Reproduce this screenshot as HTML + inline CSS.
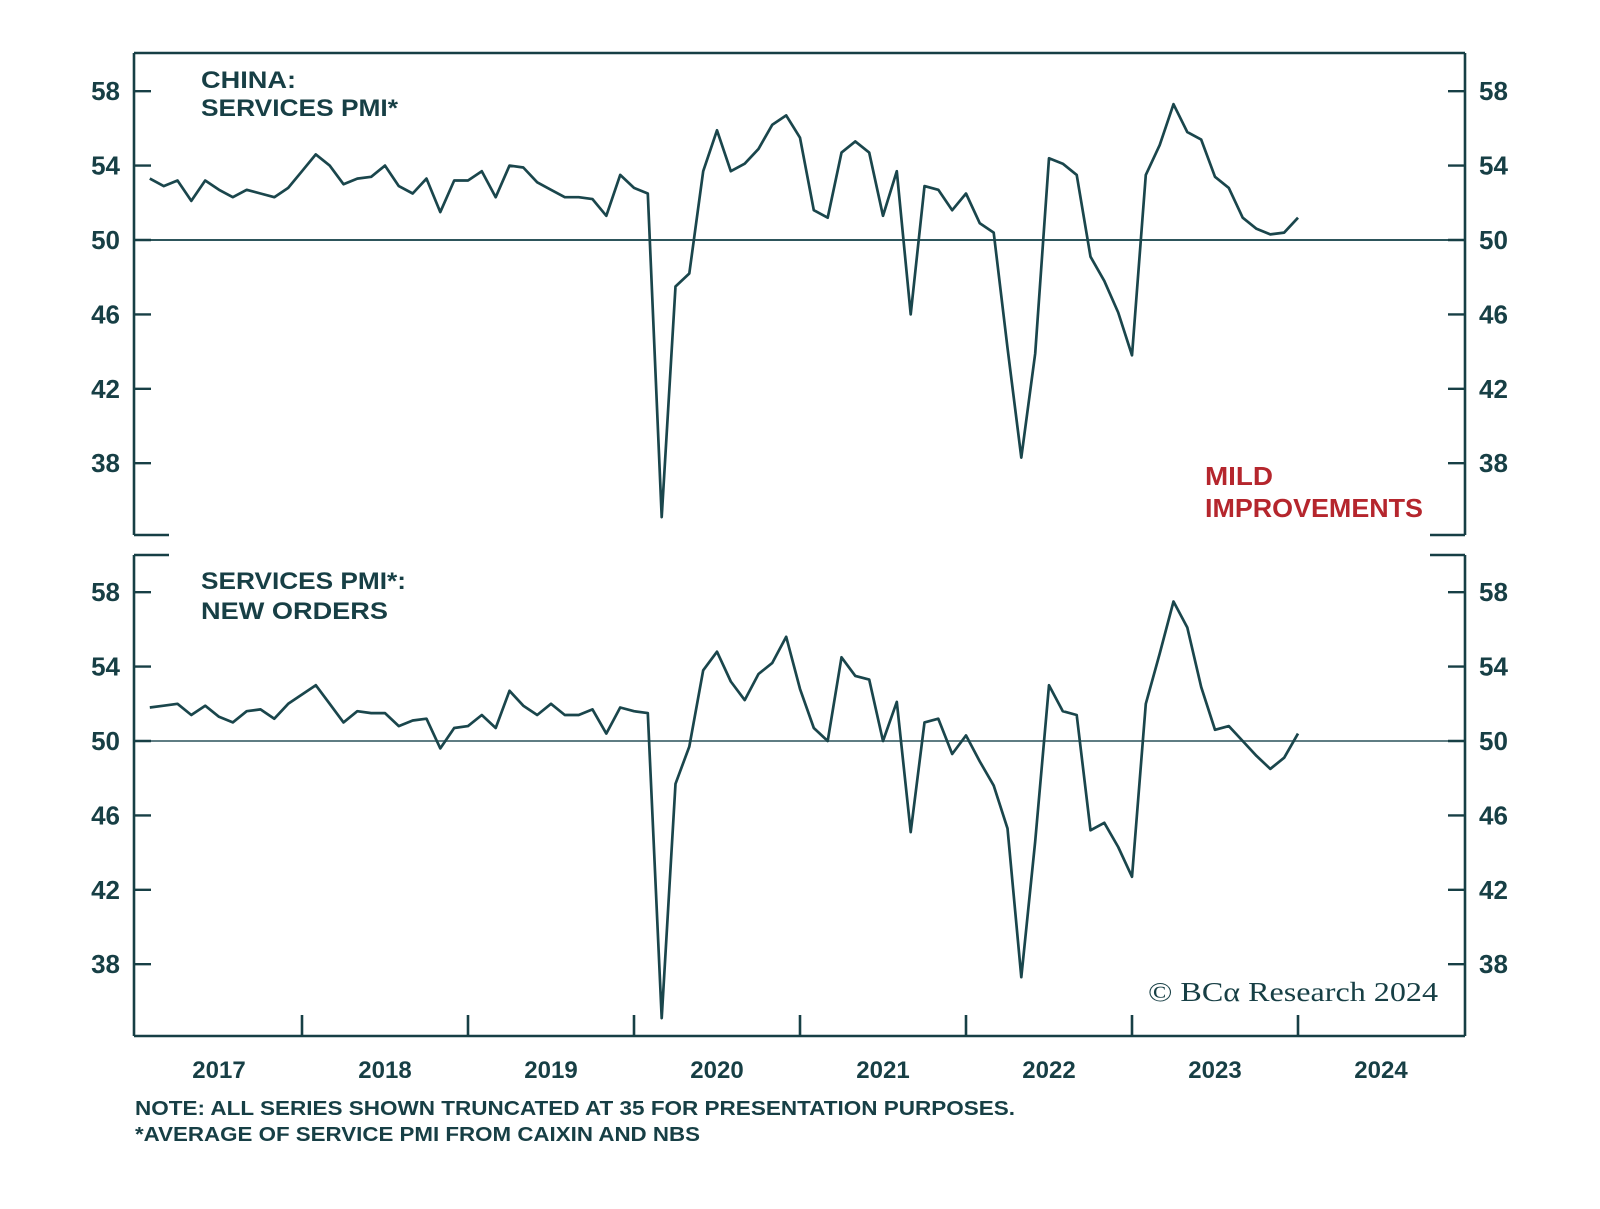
<!DOCTYPE html>
<html><head><meta charset="utf-8"><style>
html,body{margin:0;padding:0;background:#fff;}
svg{display:block;}
text{font-family:"Liberation Sans",sans-serif;fill:#173f45;}
</style></head><body>
<svg id="chart" width="1600" height="1209" viewBox="0 0 1600 1209" xmlns="http://www.w3.org/2000/svg">
<g id="frames"></g>
<g id="axes"></g>
<g id="series"></g>
<text x="201" y="88" font-size="24" font-weight="bold" textLength="95" lengthAdjust="spacingAndGlyphs">CHINA:</text>
<text x="201" y="116" font-size="24" font-weight="bold" textLength="197" lengthAdjust="spacingAndGlyphs">SERVICES PMI*</text>
<text x="201" y="589" font-size="24" font-weight="bold" textLength="205" lengthAdjust="spacingAndGlyphs">SERVICES PMI*:</text>
<text x="201" y="619" font-size="24" font-weight="bold" textLength="187" lengthAdjust="spacingAndGlyphs">NEW ORDERS</text>
<text x="1205" y="485" font-size="26" font-weight="bold" textLength="68" lengthAdjust="spacingAndGlyphs" style="fill:#b5262d">MILD</text>
<text x="1205" y="517" font-size="26" font-weight="bold" textLength="218" lengthAdjust="spacingAndGlyphs" style="fill:#b5262d">IMPROVEMENTS</text>
<text x="1148" y="1001" font-size="27" textLength="290" lengthAdjust="spacingAndGlyphs" style="font-family:'Liberation Serif',serif">© BCα Research 2024</text>
<text x="135" y="1115" font-size="20" font-weight="bold" textLength="880" lengthAdjust="spacingAndGlyphs">NOTE: ALL SERIES SHOWN TRUNCATED AT 35 FOR PRESENTATION PURPOSES.</text>
<text x="135" y="1141" font-size="20" font-weight="bold" textLength="565" lengthAdjust="spacingAndGlyphs">*AVERAGE OF SERVICE PMI FROM CAIXIN AND NBS</text>
</svg>
<script>
const years = [2017,2018,2019,2020,2021,2022,2023,2024];
const yTicks = [38,42,46,50,54,58];
const servicesPMI = [53.3,52.9,53.2,52.1,53.2,52.7,52.3,52.7,52.5,52.3,52.8,53.7,
 54.6,54.0,53.0,53.3,53.4,54.0,52.9,52.5,53.3,51.5,53.2,53.2,
 53.7,52.3,54.0,53.9,53.1,52.7,52.3,52.3,52.2,51.3,53.5,52.8,
 52.5,35.1,47.5,48.2,53.7,55.9,53.7,54.1,54.9,56.2,56.7,55.5,
 51.6,51.2,54.7,55.3,54.7,51.3,53.7,46.0,52.9,52.7,51.6,52.5,
 50.9,50.4,44.2,38.3,43.9,54.4,54.1,53.5,49.1,47.8,46.1,43.8,
 53.5,55.1,57.3,55.8,55.4,53.4,52.8,51.2,50.6,50.3,50.4,51.2];
const newOrders = [51.8,51.9,52.0,51.4,51.9,51.3,51.0,51.6,51.7,51.2,52.0,52.5,
 53.0,52.0,51.0,51.6,51.5,51.5,50.8,51.1,51.2,49.6,50.7,50.8,
 51.4,50.7,52.7,51.9,51.4,52.0,51.4,51.4,51.7,50.4,51.8,51.6,
 51.5,35.1,47.7,49.7,53.8,54.8,53.2,52.2,53.6,54.2,55.6,52.8,
 50.7,50.0,54.5,53.5,53.3,50.0,52.1,45.1,51.0,51.2,49.3,50.3,
 48.9,47.6,45.3,37.3,44.6,53.0,51.6,51.4,45.2,45.6,44.3,42.7,
 52.0,54.7,57.5,56.1,52.9,50.6,50.8,50.0,49.2,48.5,49.1,50.4];

const NS="http://www.w3.org/2000/svg";
const L=134,R=1465,X0=136,YEARW=166;
const panels=[{top:53,bottom:535,y50:240,data:servicesPMI,key:'services-pmi'},
              {top:555,bottom:1036,y50:741,data:newOrders,key:'new-orders'}];
const PXU=18.6;
function xMonth(i){return X0+(i+1)*YEARW/12;}
function xYear(k){return X0+k*YEARW;}
function mk(tag,attrs,parent){const e=document.createElementNS(NS,tag);for(const k in attrs)e.setAttribute(k,attrs[k]);parent.appendChild(e);return e;}
const C='#173f45';
const frames=document.getElementById('frames'),axes=document.getElementById('axes'),series=document.getElementById('series');
panels.forEach((p,pi)=>{
  const yS=v=>p.y50-(v-50)*PXU;
  const st={stroke:C,'stroke-width':2.6,fill:'none'};
  let e=mk('line',Object.assign({x1:L,y1:p.top,x2:L,y2:p.bottom},st),frames);
  
  e=mk('line',Object.assign({x1:R,y1:p.top,x2:R,y2:p.bottom},st),frames);
  
  if(pi===0){e=mk('line',Object.assign({x1:L,y1:p.top,x2:R,y2:p.top},st),frames);}
  else{e=mk('line',Object.assign({x1:L,y1:p.bottom,x2:R,y2:p.bottom},st),frames);}
  
  const sy=pi===0?p.bottom:p.top;
  e=mk('line',Object.assign({x1:L,y1:sy,x2:L+35,y2:sy},st),frames);
  
  e=mk('line',Object.assign({x1:R-35,y1:sy,x2:R,y2:sy},st),frames);
  
  e=mk('line',{x1:L,y1:yS(50),x2:R,y2:yS(50),stroke:pi===0?'#2d555b':'#5f7d83','stroke-width':2},axes);
  
  yTicks.forEach(t=>{
    const y=yS(t);
    let a=mk('line',{x1:L,y1:y,x2:L+17,y2:y,stroke:C,'stroke-width':2.4},axes);
    
    a=mk('line',{x1:R-17,y1:y,x2:R,y2:y,stroke:C,'stroke-width':2.4},axes);
    
    let tx=mk('text',{x:120,y:y+9,'font-size':26,'font-weight':'bold','text-anchor':'end'},axes);
    tx.textContent=t;
    tx=mk('text',{x:1479,y:y+9,'font-size':26,'font-weight':'bold'},axes);
    tx.textContent=t;
  });
  const pts=p.data.map((v,i)=>xMonth(i).toFixed(1)+','+yS(v).toFixed(1)).join(' ');
  const pl=mk('polyline',{points:pts,fill:'none',stroke:'#1a464c','stroke-width':2.7,'stroke-linejoin':'round'},series);
  
  
});
years.forEach((yr,k)=>{
  if(k>0){const t=mk('line',{x1:xYear(k),y1:1036,x2:xYear(k),y2:1015,stroke:C,'stroke-width':2.6},axes);
    }
  const tx=mk('text',{x:xYear(k)+YEARW/2,y:1078,'font-size':24,'font-weight':'bold','text-anchor':'middle'},axes);
  tx.textContent=yr;
  
  
});
</script>
</body></html>
